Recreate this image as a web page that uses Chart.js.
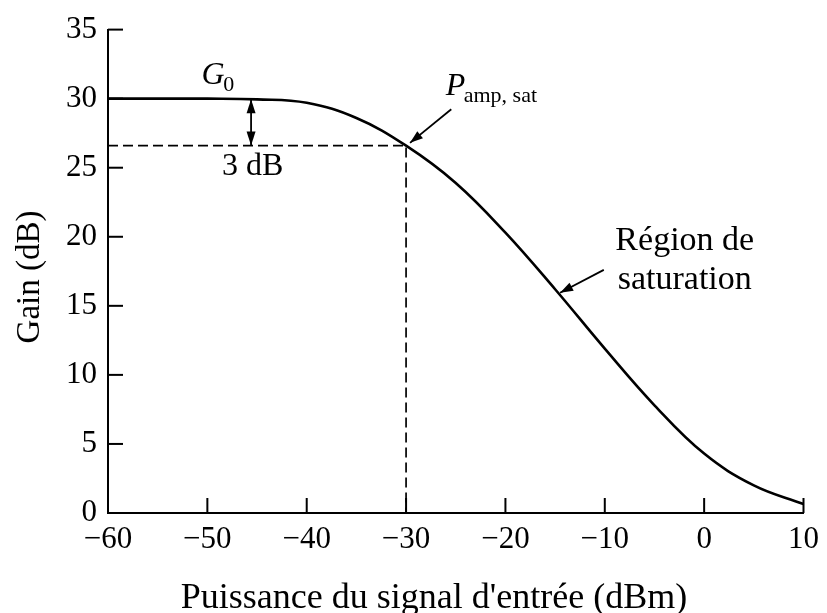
<!DOCTYPE html>
<html>
<head>
<meta charset="utf-8">
<script src="https://cdn.jsdelivr.net/npm/chart.js@4.4.1/dist/chart.umd.min.js"></script>
<style>
html, body { margin: 0; padding: 0; background: #fff; }
#wrap { width: 827px; height: 613px; }
</style>
</head>
<body>
<div id="wrap"><canvas id="gainChart" width="827" height="613"></canvas></div>
<script>
// Données
const inputPower = [-60, -55, -50, -45, -40, -35, -30, -25, -20, -15, -10, -5, 0, 5, 10];
const gainDb     = [30, 30, 30, 29.95, 29.7, 28.6, 26.6, 23.9, 20.3, 16.2, 11.9, 7.8, 4.3, 2.0, 0.65];
const xTicks = [-60, -50, -40, -30, -20, -10, 0, 10];
const yTicks = [0, 5, 10, 15, 20, 25, 30, 35];
const satPower = -30;   // P amp, sat (dBm)
const satGain = 26.6;   // G0 - 3 dB
const dashX = [-60, satPower, satPower];
const dashY = [satGain, satGain, 0];

const serif = "'Liberation Serif', 'DejaVu Serif', serif";

function fmt(v) {
    return v < 0 ? '\u2212' + Math.abs(v) : String(v);
}

function arrowHead(ctx, x1, y1, x2, y2, len, half) {
    const a = Math.atan2(y2 - y1, x2 - x1);
    ctx.beginPath();
    ctx.moveTo(x2, y2);
    ctx.lineTo(x2 - len * Math.cos(a) + half * Math.sin(a), y2 - len * Math.sin(a) - half * Math.cos(a));
    ctx.lineTo(x2 - len * Math.cos(a) - half * Math.sin(a), y2 - len * Math.sin(a) + half * Math.cos(a));
    ctx.closePath();
    ctx.fill();
}

function arrow(ctx, x1, y1, x2, y2) {
    ctx.beginPath();
    ctx.moveTo(x1, y1);
    ctx.lineTo(x2, y2);
    ctx.stroke();
    arrowHead(ctx, x1, y1, x2, y2, 13, 4.5);
}

// petites graduations vers l'intérieur + annotations
const annotations = {
    id: 'annotations',
    afterDatasetsDraw(chart) {
        const ctx = chart.ctx;
        const xs = chart.scales.x, ys = chart.scales.y;
        const area = chart.chartArea;
        const px = v => xs.getPixelForValue(v);
        const py = v => ys.getPixelForValue(v);

        ctx.save();
        ctx.strokeStyle = '#000';
        ctx.fillStyle = '#000';
        ctx.lineWidth = 2;

        xTicks.forEach(v => {
            ctx.beginPath();
            ctx.moveTo(px(v), area.bottom);
            ctx.lineTo(px(v), area.bottom - 15);
            ctx.stroke();
        });
        yTicks.forEach(v => {
            ctx.beginPath();
            ctx.moveTo(area.left, py(v));
            ctx.lineTo(area.left + 15, py(v));
            ctx.stroke();
        });

        // double flèche 3 dB
        const ax = px(-45.6);
        ctx.lineWidth = 1.8;
        ctx.beginPath();
        ctx.moveTo(ax, py(29.95));
        ctx.lineTo(ax, py(satGain));
        ctx.stroke();
        arrowHead(ctx, ax, py(28.3), ax, py(29.95), 14, 4.5);
        arrowHead(ctx, ax, py(28.3), ax, py(satGain), 14, 4.5);

        // flèches vers P amp,sat et région de saturation
        arrow(ctx, px(-25.45), py(29.23), px(-29.6), py(26.8));
        arrow(ctx, px(-10.1), py(17.6), px(-14.5), py(15.95));

        ctx.textBaseline = 'alphabetic';
        ctx.textAlign = 'left';

        // G0
        ctx.font = 'italic 32px ' + serif;
        ctx.fillText('G', px(-50.6), py(31.05));
        ctx.font = '22px ' + serif;
        ctx.fillText('0', px(-48.4), py(30.55));

        // P amp, sat
        ctx.font = 'italic 32px ' + serif;
        ctx.fillText('P', px(-26.0), py(30.25));
        ctx.font = '22px ' + serif;
        ctx.fillText('amp, sat', px(-24.2), py(29.75));

        ctx.textAlign = 'center';
        ctx.font = '32px ' + serif;
        ctx.fillText('3 dB', px(-45.45), py(24.45));

        ctx.font = '34px ' + serif;
        ctx.fillText('Région de', px(-1.95), py(19.05));
        ctx.fillText('saturation', px(-1.95), py(16.24));

        // titres des axes
        ctx.font = '36px ' + serif;
        ctx.fillText("Puissance du signal d'entrée (dBm)", 434, 608);

        ctx.translate(39, 277);
        ctx.rotate(-Math.PI / 2);
        ctx.font = '33px ' + serif;
        ctx.fillText('Gain (dB)', 0, 0);
        ctx.restore();
    }
};

new Chart(document.getElementById('gainChart').getContext('2d'), {
    type: 'line',
    data: {
        datasets: [
            {
                label: 'Gain',
                data: inputPower.map((x, i) => ({ x: x, y: gainDb[i] })),
                borderColor: '#000',
                borderWidth: 2.6,
                pointRadius: 0,
                tension: 0.4,
                fill: false
            },
            {
                label: '3 dB',
                data: dashX.map((x, i) => ({ x: x, y: dashY[i] })),
                borderColor: '#000',
                borderWidth: 1.7,
                borderDash: [10, 5],
                pointRadius: 0,
                tension: 0,
                fill: false
            }
        ]
    },
    options: {
        responsive: false,
        animation: false,
        layout: { padding: { top: 28, right: 20, left: 0, bottom: 0 } },
        plugins: {
            legend: { display: false },
            tooltip: { enabled: false }
        },
        scales: {
            x: {
                type: 'linear',
                min: -60,
                max: 10,
                afterBuildTicks: s => { s.ticks = xTicks.map(v => ({ value: v })); },
                afterFit: s => { s.height = 100; },
                grid: { display: true, drawOnChartArea: false, drawTicks: false },
                border: { display: true, color: '#000', width: 2 },
                ticks: {
                    color: '#000',
                    padding: 8,
                    maxRotation: 0,
                    autoSkip: false,
                    font: { family: serif, size: 31 },
                    callback: v => fmt(v)
                }
            },
            y: {
                type: 'linear',
                min: 0,
                max: 35,
                afterBuildTicks: s => { s.ticks = yTicks.map(v => ({ value: v })); },
                afterFit: s => { s.width = 108; },
                grid: { display: true, drawOnChartArea: false, drawTicks: false },
                border: { display: true, color: '#000', width: 2 },
                ticks: {
                    color: '#000',
                    padding: 11,
                    autoSkip: false,
                    font: { family: serif, size: 31 },
                    callback: v => fmt(v)
                }
            }
        }
    },
    plugins: [annotations]
});
</script>
</body>
</html>
